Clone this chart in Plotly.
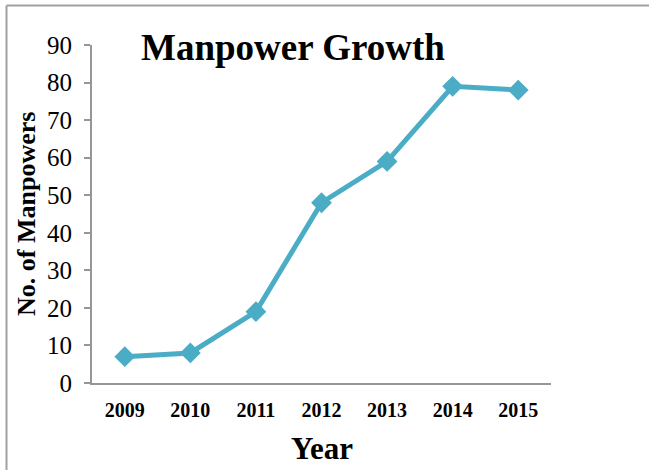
import plotly.graph_objects as go

years = ["2009", "2010", "2011", "2012", "2013", "2014", "2015"]
manpower = [7, 8, 19, 48, 59, 79, 78]

W, H = 649, 470
L, R, T, B = 92, 98, 45, 87
pw, ph = W - L - R, H - T - B

def px_x(x):
    return (x - L) / pw

def px_y(y):
    return (H - B - y) / ph

FONT = "Liberation Serif, Times New Roman, serif"

fig = go.Figure()
fig.add_trace(go.Scatter(
    x=years, y=manpower, mode="lines+markers",
    line=dict(color="#4BACC6", width=5),
    marker=dict(symbol="diamond", size=16, color="#4BACC6"),
    showlegend=False,
))

fig.update_layout(
    width=W, height=H,
    margin=dict(l=L, r=R, t=T, b=B),
    paper_bgcolor="white", plot_bgcolor="white",
    font=dict(family=FONT, color="black"),
    xaxis=dict(
        type="category", range=[-0.5, 6.5],
        showline=True, linecolor="#969696", linewidth=2,
        showgrid=False, ticks="", zeroline=False,
        tickfont=dict(size=20, family=FONT, color="black", weight="bold"),
        ticklabelstandoff=8,
    ),
    yaxis=dict(
        range=[0, 90], dtick=10,
        showline=True, linecolor="#969696", linewidth=2,
        showgrid=False, zeroline=False,
        ticks="outside", ticklen=6, tickcolor="#969696", tickwidth=1.5,
        tickfont=dict(size=25, family=FONT, color="black"),
        ticklabelstandoff=7,
    ),
    annotations=[
        dict(text="<b>Manpower Growth</b>", xref="paper", yref="paper",
             x=px_x(293), y=px_y(47), xanchor="center", yanchor="middle",
             showarrow=False, font=dict(size=37, family=FONT, color="black")),
        dict(text="<b>Year</b>", xref="paper", yref="paper",
             x=px_x(322), y=px_y(448), xanchor="center", yanchor="middle",
             showarrow=False, font=dict(size=31, family=FONT, color="black")),
        dict(text="<b>No. of Manpowers</b>", xref="paper", yref="paper",
             x=px_x(26), y=px_y(214), xanchor="center", yanchor="middle",
             textangle=-90,
             showarrow=False, font=dict(size=26, family=FONT, color="black")),
    ],
    shapes=[
        dict(type="line", xref="paper", yref="paper",
             x0=px_x(6.5), x1=px_x(660), y0=px_y(5.5), y1=px_y(5.5),
             line=dict(color="#A0A0A0", width=2)),
        dict(type="line", xref="paper", yref="paper",
             x0=px_x(6.5), x1=px_x(6.5), y0=px_y(5.5), y1=px_y(480),
             line=dict(color="#A0A0A0", width=2)),
    ],
)

fig.write_html(
    "out.html",
    config={"displayModeBar": False},
    post_script="document.body.style.margin='0';document.body.style.overflow='hidden';",
)
